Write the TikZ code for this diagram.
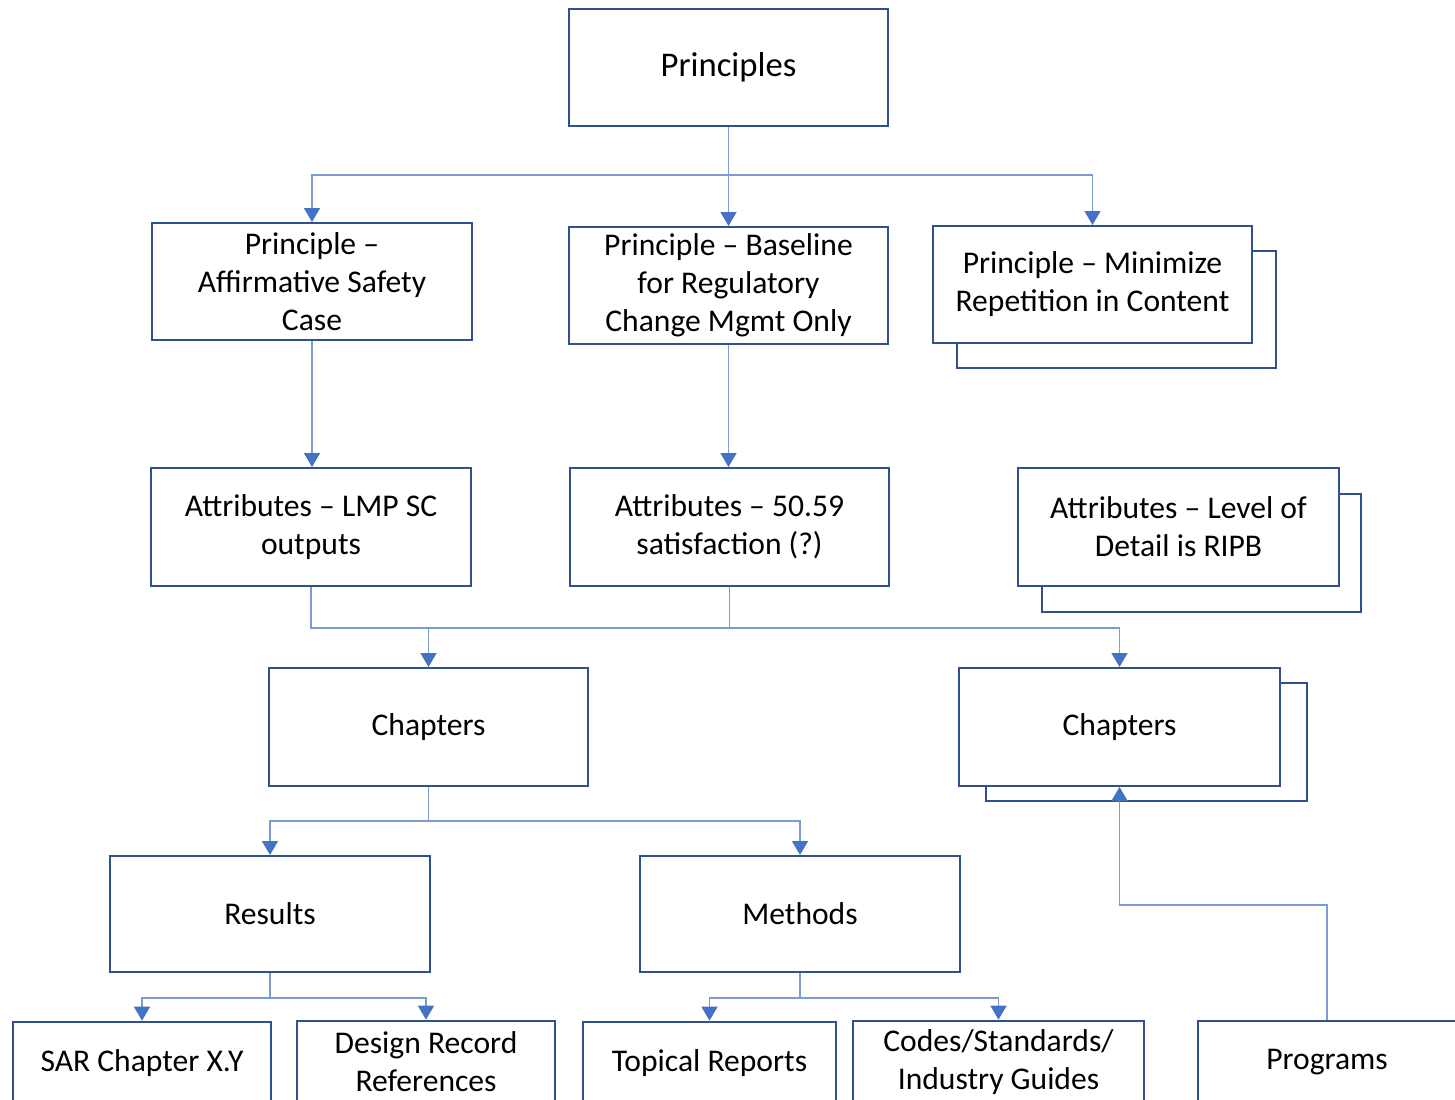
\documentclass[tikz,border=0pt]{standalone}
\usepackage{fontspec}
\setmainfont{Carlito}
\usetikzlibrary{arrows.meta}
\definecolor{boxblue}{HTML}{2F528F}
\definecolor{lineblue}{HTML}{7C9AD4}
\definecolor{tipblue}{HTML}{4472C4}
\tikzset{
  box/.style={draw=boxblue, line width=1.5pt, fill=white, inner sep=0pt,
    align=center, font=\fontsize{23.7}{28.5}\selectfont},
  conn/.style={draw=lineblue, line width=1.1pt},
  arr/.style={conn, -{Triangle[length=10.5pt,width=12pt,color=tipblue]}},
}
\begin{document}
\begin{tikzpicture}[x=0.75pt,y=-0.75pt]
\useasboundingbox (0,0) rectangle (1455,1099);
\clip (0,0) rectangle (1455,1099);
% back (stacked) boxes
\node[box, minimum width=239.25pt, minimum height=87.75pt] (p3b) at (1116.5,309.5) {};
\node[box, minimum width=239.25pt, minimum height=88.5pt] (a3b) at (1201.5,552.5) {};
\node[box, minimum width=240.75pt, minimum height=88.5pt] (chrb) at (1146.5,741.5) {};
% main boxes
\node[box, minimum width=239.25pt, minimum height=87.75pt, font=\fontsize{26}{30}\selectfont] (prin) at (728.5,67.5) {Principles};
\node[box, minimum width=240pt, minimum height=87.75pt] (p1) at (312,281.5) {Principle –\\Affirmative Safety\\Case};
\node[box, minimum width=239.25pt, minimum height=87.75pt] (p2) at (728.5,285.5) {Principle – Baseline\\for Regulatory\\Change Mgmt Only};
\node[box, minimum width=239.25pt, minimum height=87.75pt] (p3) at (1092.5,284.5) {Principle – Minimize\\Repetition in Content};
\node[box, minimum width=240pt, minimum height=88.5pt] (a1) at (311,527) {Attributes – LMP SC\\outputs};
\node[box, minimum width=239.25pt, minimum height=88.5pt] (a2) at (729.5,527) {Attributes – 50.59\\satisfaction (?)};
\node[box, minimum width=240.75pt, minimum height=88.5pt] (a3) at (1178.5,527) {Attributes – Level of\\Detail is RIPB};
\node[box, minimum width=239.25pt, minimum height=88.5pt] (chl) at (428.5,727) {Chapters};
\node[box, minimum width=240.75pt, minimum height=88.5pt] (chr) at (1119.5,727) {Chapters};
\node[box, minimum width=240pt, minimum height=87pt] (res) at (270,914) {Results};
\node[box, minimum width=240pt, minimum height=87pt] (met) at (800,914) {Methods};
\node[box, minimum width=193.5pt, minimum height=62pt] (sar) at (142,1063) {SAR Chapter X.Y};
\node[box, minimum width=193.5pt, minimum height=62pt] (dr) at (426,1062) {Design Record\\References};
\node[box, minimum width=189.75pt, minimum height=62pt] (top) at (709.5,1063) {Topical Reports};
\node[box, minimum width=218.25pt, minimum height=62pt] (codes) at (998.5,1062) {Codes/Standards/\\Industry Guides};
\node[box, minimum width=193.5pt, minimum height=62pt] (prog) at (1327,1062) {Programs};
% junction levels
\coordinate (bus1) at (0,175);
\coordinate (bus2) at (0,628);
\coordinate (bus3) at (0,821);
\coordinate (bus4) at (0,998);
\coordinate (bus5) at (0,905);
% connectors
\draw[conn] (prin.south) -- (prin.south |- bus1);
\draw[arr] (prin.south |- bus1) -| (p1.north);
\draw[arr] (prin.south |- bus1) -- (p2.north);
\draw[arr] (prin.south |- bus1) -| (p3.north);
\draw[arr] (p1.south) -- (p1.south |- a1.north);
\draw[arr] (p2.south) -- (p2.south |- a2.north);
\draw[conn] (a1.south) |- (chr.north |- bus2);
\draw[conn] (a2.south) -- (a2.south |- bus2);
\draw[arr] (chl.north |- bus2) -- (chl.north);
\draw[arr] (chr.north |- bus2) -- (chr.north);
\draw[conn] (chl.south) -- (chl.south |- bus3);
\draw[arr] (chl.south |- bus3) -| (res.north);
\draw[arr] (chl.south |- bus3) -| (met.north);
\draw[conn] (res.south) -- (res.south |- bus4);
\draw[arr] (res.south |- bus4) -| (sar.north);
\draw[arr] (res.south |- bus4) -| (dr.north);
\draw[conn] (met.south) -- (met.south |- bus4);
\draw[arr] (met.south |- bus4) -| (top.north);
\draw[arr] (met.south |- bus4) -| (codes.north);
\draw[arr] (prog.north) -- (prog.north |- bus5) -- (chr.north |- bus5) -- (chr.south);
\end{tikzpicture}
\end{document}
